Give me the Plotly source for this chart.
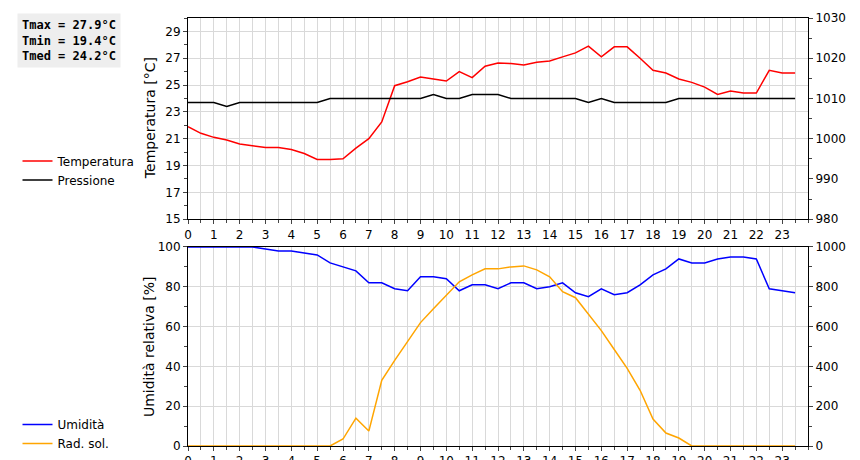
import plotly.graph_objects as go

# half-hourly readings, 0:00 .. 23:30
ore = [i * 0.5 for i in range(48)]

temperatura = [21.9, 21.4, 21.1, 20.9, 20.6, 20.5, 20.35, 20.35, 20.2, 19.9,
               19.45, 19.45, 19.5, 20.3, 21.0, 22.25, 24.95, 25.25, 25.6, 25.45,
               25.3, 26.0, 25.55, 26.4, 26.65, 26.6, 26.5, 26.7, 26.8, 27.1,
               27.4, 27.9, 27.1, 27.85, 27.85, 27.0, 26.1, 25.9, 25.45, 25.2,
               24.85, 24.3, 24.55, 24.4, 24.4, 26.1, 25.9, 25.9]
pressione = [1009, 1009, 1009, 1008, 1009, 1009, 1009, 1009, 1009, 1009,
             1009, 1010, 1010, 1010, 1010, 1010, 1010, 1010, 1010, 1011,
             1010, 1010, 1011, 1011, 1011, 1010, 1010, 1010, 1010, 1010,
             1010, 1009, 1010, 1009, 1009, 1009, 1009, 1009, 1010, 1010,
             1010, 1010, 1010, 1010, 1010, 1010, 1010, 1010]
umidita = [100, 100, 100, 100, 100, 100, 99, 98, 98, 97,
           96, 92, 90, 88, 82, 82, 79, 78, 85, 85,
           84, 78, 81, 81, 79, 82, 82, 79, 80, 82,
           77, 75, 79, 76, 77, 81, 86, 89, 94, 92,
           92, 94, 95, 95, 94, 79, 78, 77]
radiazione = [0, 0, 0, 0, 0, 0, 0, 0, 0, 0,
              0, 0, 35, 140, 75, 330, 430, 525, 620, 690,
              760, 825, 860, 890, 890, 900, 905, 885, 850, 775,
              745, 665, 580, 485, 390, 280, 135, 65, 40, 0,
              0, 0, 0, 0, 0, 0, 0, 0]

stats_text = "Tmax = 27.9°C<br>Tmin = 19.4°C<br>Tmed = 24.2°C"

FONT = "DejaVu Sans"
GRID = "#d9d9d9"

fig = go.Figure()
fig.add_trace(go.Scatter(x=ore, y=temperatura, name="Temperatura", mode="lines",
                         line=dict(color="red", width=1.5), xaxis="x", yaxis="y", legend="legend"))
fig.add_trace(go.Scatter(x=ore, y=pressione, name="Pressione", mode="lines",
                         line=dict(color="black", width=1.5), xaxis="x", yaxis="y2", legend="legend"))
fig.add_trace(go.Scatter(x=ore, y=umidita, name="Umidità", mode="lines",
                         line=dict(color="blue", width=1.5), xaxis="x2", yaxis="y3", legend="legend2"))
fig.add_trace(go.Scatter(x=ore, y=radiazione, name="Rad. sol.", mode="lines",
                         line=dict(color="orange", width=1.5), xaxis="x2", yaxis="y4", legend="legend2"))

xcommon = dict(range=[0, 24], showgrid=True, gridcolor=GRID, automargin=False,
               ticks="outside", ticklen=4, showline=True, linecolor="black", mirror=True,
               tickfont=dict(size=12, color="black"), zeroline=False,
               minor=dict(dtick=0.5, showgrid=True, gridcolor=GRID, ticks="outside", ticklen=3),
               tickvals=list(range(24)))
ycommon = dict(showline=True, linecolor="black", ticks="outside", ticklen=4, automargin=False,
               tickfont=dict(size=12, color="black"), zeroline=False)

fig.update_layout(
    width=860, height=460,
    margin=dict(l=175, r=60, t=10, b=20),
    paper_bgcolor="white", plot_bgcolor="white",
    font=dict(family=FONT, color="black"),
    xaxis=dict(domain=[0, 1], anchor="y", **xcommon),
    xaxis2=dict(domain=[0, 1], anchor="y3", **xcommon),
    yaxis=dict(domain=[0.53, 1], range=[15, 30], tickvals=list(range(15, 30, 2)),
               showgrid=True, gridcolor=GRID,
               minor=dict(dtick=1, ticks="outside", ticklen=3, showgrid=False), **ycommon),
    yaxis2=dict(overlaying="y", side="right", anchor="x", range=[980, 1030], dtick=10,
                showgrid=False, minor=dict(dtick=5, ticks="outside", ticklen=3), **ycommon),
    yaxis3=dict(domain=[0, 0.465], anchor="x2", range=[0, 100], dtick=20,
                showgrid=True, gridcolor=GRID,
                minor=dict(dtick=10, ticks="outside", ticklen=3, showgrid=False), **ycommon),
    yaxis4=dict(overlaying="y3", side="right", anchor="x2", range=[0, 1000], dtick=200,
                showgrid=False, minor=dict(dtick=100, ticks="outside", ticklen=3), **ycommon),
    legend=dict(x=-0.275, xanchor="left", y=0.70, yanchor="top", bgcolor="rgba(0,0,0,0)",
                font=dict(size=12), tracegroupgap=0, itemwidth=30),
    legend2=dict(x=-0.275, xanchor="left", y=0.084, yanchor="top", bgcolor="rgba(0,0,0,0)",
                 font=dict(size=12), tracegroupgap=0, itemwidth=30),
    showlegend=True,
)

# axis titles placed as rotated annotations (pixel-tight on the right edge)
titles = [
    ("Temperatura [°C]", -0.062, 0.765),
    ("Pressione [mbar]", 1.083, 0.765),
    ("Umidità relativa [%]", -0.062, 0.2325),
    ("Rad. solare [W/mq]", 1.083, 0.2325),
]
for text, x, y in titles:
    fig.add_annotation(text=text, xref="paper", yref="paper", x=x, y=y, textangle=-90,
                       showarrow=False, xanchor="center", yanchor="middle",
                       font=dict(size=14, color="black"))

fig.add_annotation(text=stats_text, xref="paper", yref="paper", x=-0.276, y=1.012,
                   xanchor="left", yanchor="top", showarrow=False, align="left",
                   bgcolor="#eeeeee", borderpad=4,
                   font=dict(family="DejaVu Sans Mono", size=12, color="black", weight="bold"))

fig.write_html("out.html")
